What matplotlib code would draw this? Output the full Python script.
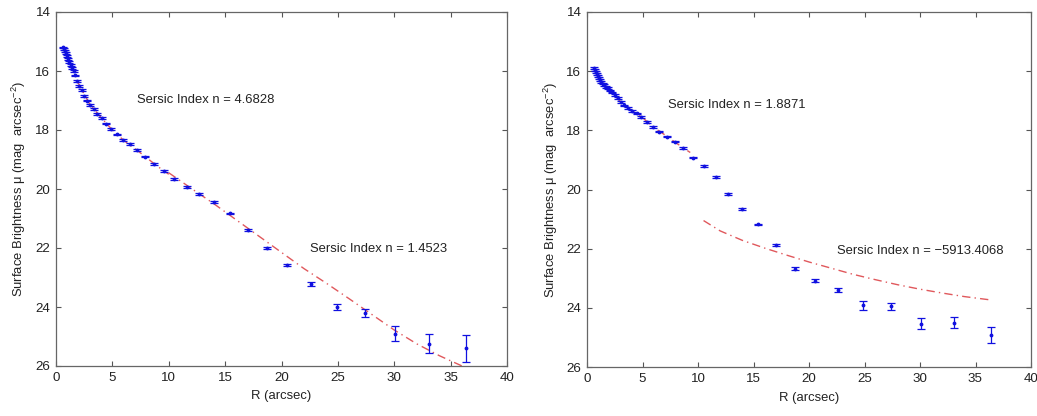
import matplotlib
matplotlib.use("Agg")
import matplotlib.pyplot as plt

plt.rcParams['font.family'] = ['Liberation Sans', 'DejaVu Sans']
plt.rcParams['mathtext.default'] = 'regular'

# ---- data ----
radius = [0.66, 0.73, 0.80, 0.88, 0.97, 1.07, 1.17, 1.29, 1.42, 1.56, 1.72, 1.89,
          2.08, 2.29, 2.52, 2.77, 3.04, 3.35, 3.68, 4.05, 4.46, 4.90, 5.39, 5.93,
          6.52, 7.18, 7.89, 8.68, 9.55, 10.5, 11.6, 12.7, 14.0, 15.4, 17.0, 18.7,
          20.5, 22.6, 24.9, 27.4, 30.1, 33.1, 36.4]

mu_left = [15.20, 15.25, 15.32, 15.40, 15.50, 15.60, 15.70, 15.80, 15.90, 16.00,
           16.15, 16.33, 16.50, 16.65, 16.85, 17.00, 17.15, 17.30, 17.45, 17.60,
           17.78, 17.96, 18.15, 18.33, 18.48, 18.68, 18.90, 19.14, 19.38, 19.66,
           19.93, 20.17, 20.43, 20.83, 21.38, 22.00, 22.57, 23.22, 24.00, 24.20,
           24.90, 25.25, 25.40]
err_left = [0.03] * 37 + [0.06, 0.11, 0.13, 0.25, 0.32, 0.45]

mu_right = [15.88, 15.95, 16.03, 16.10, 16.16, 16.23, 16.30, 16.36, 16.42, 16.47,
            16.53, 16.58, 16.65, 16.72, 16.80, 16.90, 17.03, 17.16, 17.25, 17.34,
            17.43, 17.54, 17.72, 17.90, 18.04, 18.21, 18.38, 18.61, 18.92, 19.21,
            19.59, 20.15, 20.66, 21.18, 21.88, 22.68, 23.08, 23.40, 23.92, 23.95,
            24.54, 24.50, 24.92]
err_right = [0.03] * 35 + [0.05, 0.05, 0.07, 0.14, 0.13, 0.19, 0.19, 0.26]

# Sersic fit curves
fit1_left_r = [0.66, 1.0, 1.5, 2.0, 3.0, 4.0, 5.0, 6.0, 7.0, 8.0, 9.0, 10.0]
fit1_left_mu = [15.20, 15.53, 15.96, 16.43, 17.13, 17.58, 18.00, 18.35, 18.63, 18.93, 19.23, 19.50]
fit2_left_r = [10, 12, 14, 16, 18, 20, 22, 24, 26, 28, 30, 32, 34, 36.3]
fit2_left_mu = [19.45, 19.98, 20.50, 21.05, 21.60, 22.15, 22.70, 23.20, 23.72, 24.25, 24.78, 25.25, 25.65, 26.05]

fit1_right_r = [0.66, 1.0, 1.5, 2.0, 3.0, 4.0, 5.0, 6.0, 7.0, 8.0, 9.3]
fit1_right_mu = [15.88, 16.18, 16.45, 16.62, 17.02, 17.33, 17.57, 17.90, 18.15, 18.42, 18.75]
fit2_right_r = [10.5, 12, 14, 16, 18, 20, 22, 24, 26, 28, 30, 32, 34, 36.3]
fit2_right_mu = [21.05, 21.40, 21.72, 21.98, 22.22, 22.45, 22.66, 22.87, 23.05, 23.22, 23.37, 23.50, 23.62, 23.73]

labels_left = ["Sersic Index n = 4.6828", "Sersic Index n = 1.4523"]
labels_right = ["Sersic Index n = 1.8871", "Sersic Index n = \u22125913.4068"]

xticks = [0, 5, 10, 15, 20, 25, 30, 35, 40]
yticks = [14, 16, 18, 20, 22, 24, 26]

# ---- figure ----
fig = plt.figure(figsize=(10.37, 4.16), dpi=100)
ax1 = fig.add_axes([56 / 1037, 50 / 416, 451 / 1037, 354 / 416])
ax2 = fig.add_axes([587 / 1037, 49 / 416, 444 / 1037, 355 / 416])

line_col = '#e0585c'
pt_col = '#1010e0'
txt_col = '#222222'

def draw(ax, mu, err, f1r, f1m, f2r, f2m, labels, label_pos):
    ax.plot(f1r, f1m, color=line_col, lw=1.0, dashes=(6, 3, 1, 3))
    ax.plot(f2r, f2m, color=line_col, lw=1.0, dashes=(6, 3, 1, 3))
    ax.errorbar(radius, mu, yerr=err, fmt='.', color=pt_col, ms=3.5,
                elinewidth=0.9, capsize=3.0, capthick=0.9)
    for lab, (x, y) in zip(labels, label_pos):
        ax.text(x, y, lab, fontsize=9.4, color=txt_col, va='center', ha='left')
    ax.set_xlim(0, 40)
    ax.set_ylim(26, 14)
    ax.set_xticks(xticks)
    ax.set_yticks(yticks)
    ax.tick_params(direction='in', top=True, right=True, length=3.5, width=0.8,
                   labelsize=9.6, labelcolor=txt_col, color='#555555', pad=4)
    for s in ax.spines.values():
        s.set_color('#666666')
        s.set_linewidth(0.9)
    ax.set_xlabel('R (arcsec)', fontsize=9.4, color=txt_col, labelpad=5)
    ax.set_ylabel('Surface Brightness \u03bc (mag  arcsec$^{-2}$)', fontsize=9.4,
                  color=txt_col, labelpad=5)

draw(ax1, mu_left, err_left, fit1_left_r, fit1_left_mu, fit2_left_r, fit2_left_mu,
     labels_left, [(7.2, 16.98), (22.5, 22.03)])
draw(ax2, mu_right, err_right, fit1_right_r, fit1_right_mu, fit2_right_r, fit2_right_mu,
     labels_right, [(7.3, 17.14), (22.5, 22.08)])

fig.savefig('out.png', dpi=100)
